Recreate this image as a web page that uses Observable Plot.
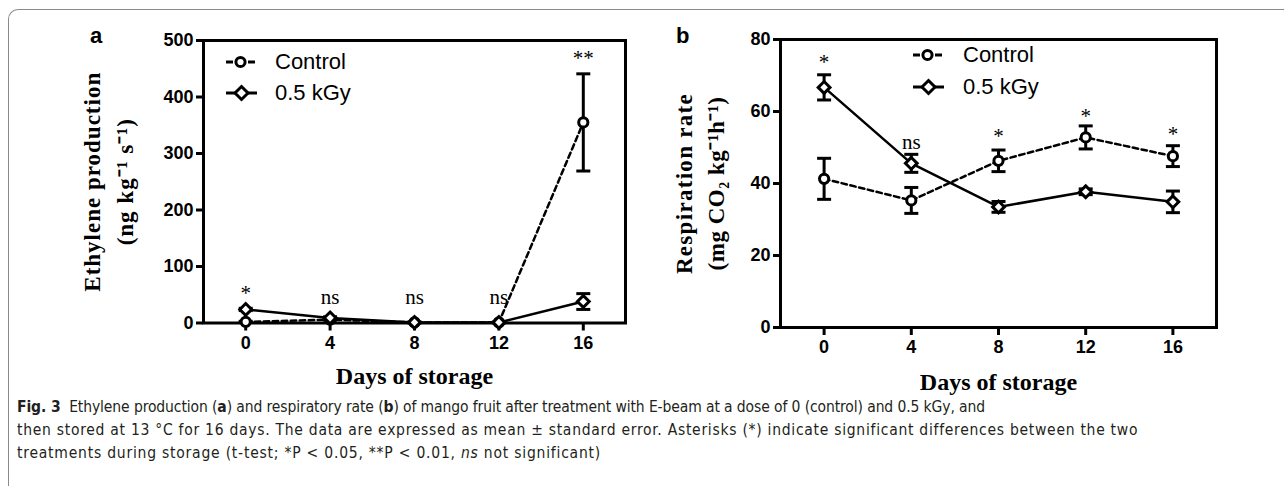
<!DOCTYPE html>
<html>
<head>
<meta charset="utf-8">
<script src="https://cdn.jsdelivr.net/npm/d3@7"></script>
<script src="https://cdn.jsdelivr.net/npm/@observablehq/plot@0.6"></script>
<style>
  html, body { margin: 0; padding: 0; background: white; }
  #page { position: relative; width: 1284px; height: 486px; overflow: hidden; background: white; }
  #border { position: absolute; left: 8px; top: 9px; width: 1400px; height: 600px;
            border-left: 1.5px solid #8a8a8a; border-top: 1.5px solid #8a8a8a; border-top-left-radius: 10px; }
  .panel { position: absolute; top: 0; }
  .plabel { position: absolute; font-family: "Liberation Sans", Arial, sans-serif; font-weight: bold; font-size: 22px; line-height: 1; }
  .legend { position: absolute; font-family: "Liberation Sans", Arial, sans-serif; font-size: 22px; }
  .legrow { position: absolute; height: 24px; display: flex; align-items: center; white-space: nowrap; }
  .legrow svg { position: absolute; left: 0; top: 0; }
  .legrow span { position: absolute; top: 0; line-height: 24px; }
  #caption { position: absolute; left: 17px; top: 396px; width: 1260px; font-family: "Liberation Sans Narrow", "DejaVu Sans Condensed", "Roboto Condensed", "Liberation Sans", sans-serif;
             font-size: 15.5px; line-height: 23px; color: #231f20; white-space: nowrap; }
  #caption .ln { display: inline-block; }
</style>
</head>
<body>
<div id="page">
  <div id="border"></div>
  <div id="panelA" class="panel" style="left:0px"></div>
  <div id="panelB" class="panel" style="left:600px"></div>
  <div class="plabel" style="left:90px; top:25px">a</div>
  <div class="plabel" style="left:676px; top:25px">b</div>
  <div id="legendA"></div>
  <div id="legendB"></div>
  <div id="caption">
    <span class="ln" data-w="968"><b>Fig. 3</b>&nbsp; Ethylene production (<b>a</b>) and respiratory rate (<b>b</b>) of mango fruit after treatment with E-beam at a dose of 0 (control) and 0.5 kGy, and</span><br>
    <span class="ln" data-w="1121">then stored at 13 °C for 16 days. The data are expressed as mean ± standard error. Asterisks (*) indicate significant differences between the two</span><br>
    <span class="ln" data-w="584">treatments during storage (t-test; *P &lt; 0.05, **P &lt; 0.01, <i>ns</i> not significant)</span>
  </div>
</div>
<script>
// ---------------- data ----------------
const days = [0, 4, 8, 12, 16];
const seriesNames = ["Control", "0.5 kGy"];

// Panel a: ethylene production (ng kg-1 s-1)
const ethControl    = [2, 6, 1, 1, 355];
const ethControlErr = [1, 1, 0.5, 0.5, 86];
const ethIrr        = [24, 9, 1, 1, 38];
const ethIrrErr     = [2, 2, 0.5, 0.5, 14];
const ethSig        = ["*", "ns", "ns", "ns", "**"];
const ethSigY       = [52, 45, 45, 45, 468];
const ethTicks      = [0, 100, 200, 300, 400, 500];

// Panel b: respiration rate (mg CO2 kg-1 h-1)
const resControl    = [41.3, 35.3, 46.3, 52.8, 47.6];
const resControlErr = [5.7, 3.6, 3.0, 3.2, 2.9];
const resIrr        = [66.7, 45.6, 33.5, 37.7, 34.9];
const resIrrErr     = [3.5, 2.5, 1.5, 0.8, 3.0];
const resSig        = ["*", "ns", "*", "*", "*"];
const resSigY       = [73.8, 51.5, 53.2, 58.8, 53.6];
const resTicks      = [0, 20, 40, 60, 80];

// ---------------- helpers ----------------
const SANS = "'Liberation Sans', Arial, sans-serif";
const SERIF = "'Liberation Serif', 'Times New Roman', serif";

const capSymbol = { draw(ctx) { ctx.moveTo(-7, 0); ctx.lineTo(7, 0); } };

function rows(vals, errs, name) {
  return days.map((d, i) => ({ day: d, v: vals[i], e: errs[i], series: name }));
}

function panel(cfg) {
  const ctrl = rows(cfg.control, cfg.controlErr, seriesNames[0]);
  const irr = rows(cfg.irr, cfg.irrErr, seriesNames[1]);
  const all = ctrl.concat(irr);
  const caps = all.flatMap(d => [{ day: d.day, y: d.v - d.e }, { day: d.day, y: d.v + d.e }]);
  const sig = days.map((d, i) => ({ day: d, y: cfg.sigY[i], t: cfg.sig[i] }));
  const labStyle = { frameAnchor: "left", rotate: -90, textAnchor: "middle", fontFamily: SERIF, fontWeight: "bold", fontSize: 23, fill: "black" };
  const svg = Plot.plot({
    width: cfg.width, height: cfg.height,
    marginLeft: cfg.ml, marginRight: cfg.mr, marginTop: cfg.mt, marginBottom: cfg.mb,
    x: { domain: [-2, 18] },
    y: { domain: [cfg.ticks[0], cfg.ticks[cfg.ticks.length - 1]] },
    style: { fontFamily: SANS, color: "black", background: "transparent", overflow: "visible" },
    marks: [
      Plot.frame({ stroke: "black", strokeWidth: 3 }),
      Plot.axisX({ ticks: days, tickSize: 8, tickPadding: 5, strokeWidth: 3, fontSize: 18, fontWeight: "bold", label: null }),
      Plot.axisY({ ticks: cfg.ticks, tickSize: 7, tickPadding: 3, strokeWidth: 3, fontSize: 18, fontWeight: "bold", label: null }),
      Plot.line(ctrl, { x: "day", y: "v", stroke: "black", strokeWidth: 2.5, strokeDasharray: "5.5,3.5" }),
      Plot.line(irr, { x: "day", y: "v", stroke: "black", strokeWidth: 2.5 }),
      Plot.ruleX(all, { x: "day", y1: d => d.v - d.e, y2: d => d.v + d.e, stroke: "black", strokeWidth: 3 }),
      Plot.dot(caps, { x: "day", y: "y", symbol: capSymbol, r: 3, stroke: "black", fill: "none", strokeWidth: 3 }),
      Plot.dot(ctrl, { x: "day", y: "v", symbol: "circle", r: 4.6, fill: "white", stroke: "black", strokeWidth: 3 }),
      Plot.dot(irr, { x: "day", y: "v", symbol: "diamond2", r: 5.3, fill: "white", stroke: "black", strokeWidth: 3 }),
      Plot.text(sig, { x: "day", y: "y", text: "t", fontFamily: SERIF, fontSize: 21, fill: "black" }),
      Plot.text(["Days of storage"], { frameAnchor: "bottom", dy: cfg.xlabDy, fontFamily: SERIF, fontWeight: "bold", fontSize: 24, fill: "black" }),
      Plot.text([cfg.ylab1], { ...labStyle, dx: cfg.ylabDx1 }),
      Plot.text([cfg.ylab2], { ...labStyle, dx: cfg.ylabDx2 })
    ]
  });
  // slight letter spacing on the rotated axis titles, as in the reference
  svg.querySelectorAll("text").forEach(t => {
    if (t.textContent === cfg.ylab1) t.setAttribute("letter-spacing", cfg.ls1);
    if (t.textContent === cfg.ylab2) t.setAttribute("letter-spacing", cfg.ls2);
  });
  return svg;
}

document.getElementById("panelA").append(panel({
  width: 640, height: 395, ml: 203, mr: 15, mt: 40, mb: 72.5,
  control: ethControl, controlErr: ethControlErr, irr: ethIrr, irrErr: ethIrrErr,
  sig: ethSig, sigY: ethSigY, ticks: ethTicks,
  xlabDy: 61, ylab1: "Ethylene production", ylab2: "(ng kg\u207B\u00B9 s\u207B\u00B9)",
  ylabDx1: -111, ylabDx2: -78, ls1: "1", ls2: "1"
}));

document.getElementById("panelB").append(panel({
  width: 640, height: 400, ml: 180, mr: 24, mt: 39, mb: 73,
  control: resControl, controlErr: resControlErr, irr: resIrr, irrErr: resIrrErr,
  sig: resSig, sigY: resSigY, ticks: resTicks,
  xlabDy: 62, ylab1: "Respiration rate", ylab2: "(mg CO\u2082 kg\u207B\u00B9h\u207B\u00B9)",
  ylabDx1: -96, ylabDx2: -64, ls1: "1.3", ls2: "0.5"
}));

// ---------------- legends ----------------
function legend(host, left, top1, top2, textLeft) {
  const el = document.getElementById(host);
  el.className = "legend";
  el.style.left = left + "px";
  el.style.top = "0px";
  const ctrlSvg = `<svg width="36" height="24" viewBox="0 0 36 24">
      <line x1="0" y1="12" x2="7" y2="12" stroke="black" stroke-width="3"/>
      <line x1="22" y1="12" x2="29" y2="12" stroke="black" stroke-width="3"/>
      <circle cx="14.5" cy="12" r="4.6" fill="white" stroke="black" stroke-width="3"/></svg>`;
  const irrSvg = `<svg width="36" height="24" viewBox="0 0 36 24">
      <line x1="0" y1="12" x2="31" y2="12" stroke="black" stroke-width="3"/>
      <path d="M15.5,5.5 L22,12 L15.5,18.5 L9,12 Z" fill="white" stroke="black" stroke-width="3"/></svg>`;
  el.innerHTML =
    `<div class="legrow" style="top:${top1}px">${ctrlSvg}<span style="left:${textLeft}px">${seriesNames[0]}</span></div>` +
    `<div class="legrow" style="top:${top2}px">${irrSvg}<span style="left:${textLeft}px">${seriesNames[1]}</span></div>`;
}
legend("legendA", 226, 50, 81, 49);
legend("legendB", 913, 43, 75, 50);

// fit caption lines to the reference line lengths
document.querySelectorAll("#caption .ln").forEach(s => {
  const target = +s.dataset.w;
  const w = s.getBoundingClientRect().width;
  const n = s.textContent.length;
  s.style.letterSpacing = ((target - w) / n) + "px";
});
</script>
</body>
</html>
